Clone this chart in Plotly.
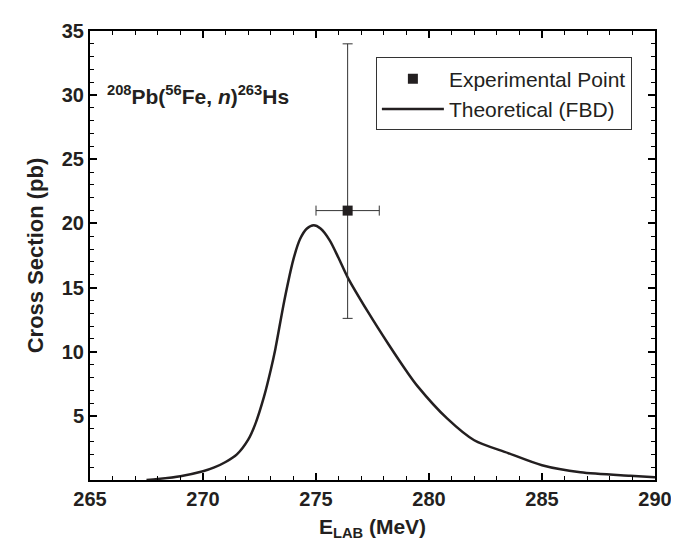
import plotly.graph_objects as go

# Theoretical (FBD) excitation function
energy_theory = [267.5, 268.0, 269.0, 270.0, 270.5, 271.0, 271.5, 272.0, 272.3, 272.7,
                 273.0, 273.2, 273.6, 274.0, 274.3, 274.6, 274.9, 275.2, 275.6, 276.0,
                 276.4, 277.3, 278.2, 279.0, 279.5, 280.8, 282.0, 283.5, 285.0, 286.7,
                 288.9, 290.0]
sigma_theory = [0.0, 0.08, 0.3, 0.68, 0.98, 1.4, 2.0, 3.15, 4.3, 6.5,
                8.6, 10.2, 14.0, 17.2, 18.8, 19.6, 19.85, 19.6, 18.7, 17.3,
                15.8, 13.1, 10.6, 8.5, 7.3, 4.8, 3.1, 2.1, 1.15, 0.6,
                0.33, 0.22]

# Experimental point
energy_exp = [276.4]
sigma_exp = [21.0]
energy_err = [1.4]
sigma_err_plus = [13.0]
sigma_err_minus = [8.4]

x_ticks = [265, 270, 275, 280, 285, 290]
y_ticks = [5, 10, 15, 20, 25, 30, 35]

dark = "#231f20"
font_family = "Liberation Sans, Arial, sans-serif"

fig = go.Figure()

fig.add_trace(go.Scatter(
    x=energy_theory, y=sigma_theory, mode="lines",
    line=dict(color=dark, width=2.5, shape="spline", smoothing=0.8),
    name="Theoretical (FBD)", legendrank=2,
))

fig.add_trace(go.Scatter(
    x=energy_exp, y=sigma_exp, mode="markers",
    marker=dict(symbol="square", size=10, color=dark),
    error_x=dict(type="data", array=energy_err, color="#333333", thickness=1, width=5),
    error_y=dict(type="data", symmetric=False, array=sigma_err_plus,
                 arrayminus=sigma_err_minus, color="#333333", thickness=1, width=5),
    name="Experimental Point", legendrank=1,
))

axis_common = dict(
    showline=True, linecolor="black", linewidth=2, mirror="ticks",
    ticks="inside", ticklen=7, tickwidth=1.5, tickcolor="black",
    showgrid=False, zeroline=False,
    tickfont=dict(family=font_family, size=20, color=dark),
)

fig.update_xaxes(
    range=[265, 290], tickvals=x_ticks, ticktext=[f"<b>{v}</b>" for v in x_ticks],
    minor=dict(tickmode="linear", tick0=265, dtick=1, ticks="inside", ticklen=4,
               tickwidth=1.2, tickcolor="black", showgrid=False),
    title=dict(text="<b>E<sub>LAB</sub> (MeV)</b>", standoff=10,
               font=dict(family=font_family, size=21, color=dark)),
    **axis_common,
)
fig.update_yaxes(
    range=[0, 35], tickvals=y_ticks, ticktext=[f"<b>{v}</b>" for v in y_ticks],
    minor=dict(tickmode="linear", tick0=0, dtick=1, ticks="inside", ticklen=4,
               tickwidth=1.2, tickcolor="black", showgrid=False),
    title=dict(text="<b>Cross Section (pb)</b>", standoff=12,
               font=dict(family=font_family, size=22, color=dark)),
    **axis_common,
)

fig.add_annotation(
    xref="paper", yref="paper", x=0.026, y=0.857, xanchor="left", yanchor="middle",
    text="<b><sup>208</sup>Pb(<sup>56</sup>Fe, <i>n</i>)<sup>263</sup>Hs</b>",
    showarrow=False, font=dict(family=font_family, size=21, color=dark),
)

fig.update_layout(
    width=679, height=544,
    margin=dict(l=82, r=32, t=17, b=72),
    paper_bgcolor="white", plot_bgcolor="white",
    showlegend=True,
    legend=dict(
        x=0.506, y=0.941, xanchor="left", yanchor="top",
        bordercolor="#333333", borderwidth=1, bgcolor="white",
        font=dict(family=font_family, size=21, color=dark),
        itemwidth=62, tracegroupgap=0,
    ),
)

fig.write_html("out.html")
